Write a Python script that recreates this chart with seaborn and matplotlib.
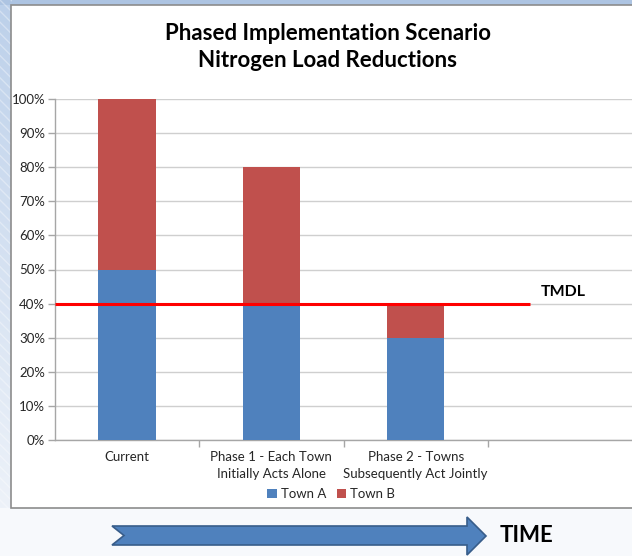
import numpy as np
import pandas as pd
import matplotlib
matplotlib.use("Agg")
import matplotlib.pyplot as plt
from matplotlib.patches import Rectangle, Polygon
from matplotlib.ticker import PercentFormatter, FixedLocator
import seaborn as sns

# ---- data ----
categories = ["Current", "Phase 1 - Each Town\nInitially Acts Alone",
              "Phase 2 - Towns\nSubsequently Act Jointly"]
town_a = [0.50, 0.40, 0.30]
town_b = [0.50, 0.40, 0.10]
tmdl = 0.40
series_names = ["Town A", "Town B"]
title = "Phased Implementation Scenario\nNitrogen Load Reductions"

sns.set_theme(style="white")
plt.rcParams["font.family"] = ["Lato", "DejaVu Sans"]

W, H = 632, 556
fig = plt.figure(figsize=(W / 100, H / 100), dpi=100)
fig.patch.set_facecolor("#f7f9fc")

# background decoration: top strip and left hatched strip
bg = fig.add_axes([0, 0, 1, 1], zorder=-10)
bg.set_xlim(0, W)
bg.set_ylim(H, 0)
bg.axis("off")
grad = np.linspace(0, 1, 256).reshape(-1, 1)
bg.imshow(grad, extent=(0, 12, 508, 0), cmap=matplotlib.colors.LinearSegmentedColormap.from_list(
    "g", ["#bcd0ea", "#edf2f9"]), aspect="auto", zorder=0)
bg.add_patch(Rectangle((0, 0), W, 5, facecolor="#adc4e2", edgecolor="none", zorder=1))
bg.add_patch(Rectangle((0, 0), 12, 508, facecolor="none", edgecolor="#ffffff", hatch="\\\\\\",
                       linewidth=0, alpha=0.35, zorder=1))
# white chart box
bg.add_patch(Rectangle((11, 5), W, 503, facecolor="white", edgecolor="#8c8c8c", linewidth=1.2, zorder=2))
bg.set_xlim(0, W)
bg.set_ylim(H, 0)

# time arrow
arrow = Polygon([(112, 526), (467, 526), (467, 517), (486, 536), (467, 555),
                 (467, 545), (112, 545), (124, 535.5)],
                closed=True, facecolor="#4f81bd", edgecolor="#385d8a", linewidth=1.2, zorder=3)
bg.add_patch(arrow)
bg.text(500, 536, "TIME", fontsize=16, fontweight="bold", color="black",
        va="center", ha="left", zorder=3)

# ---- chart ----
left, right = 55 / W, 1.0
bottom, top = 1 - 440 / H, 1 - 99 / H
ax = fig.add_axes([left, bottom, right - left, top - bottom])
ax.set_facecolor("none")

df = pd.DataFrame({"cat": categories, "A": town_a, "B": town_b})
df["total"] = df["A"] + df["B"]

c_a, c_b = "#4f81bd", "#c0504d"
sns.barplot(data=df, x="cat", y="total", color=c_b, width=0.4, saturation=1,
            ax=ax, label=series_names[1], zorder=2, linewidth=0)
sns.barplot(data=df, x="cat", y="A", color=c_a, width=0.4, saturation=1,
            ax=ax, label=series_names[0], zorder=3, linewidth=0)

ax.set_xlim(-0.5, 3.5)
ax.set_ylim(0, 1.0)
ax.set_yticks(np.arange(0, 1.01, 0.1))
ax.yaxis.set_major_formatter(PercentFormatter(1.0, decimals=0))
ax.yaxis.grid(True, color="#cfcfcf", linewidth=1.0)
ax.set_axisbelow(True)
ax.set_xlabel("")
ax.set_ylabel("")

for s in ["top", "right"]:
    ax.spines[s].set_visible(False)
for s in ["left", "bottom"]:
    ax.spines[s].set_color("#a6a6a6")
    ax.spines[s].set_linewidth(1.0)

ax.tick_params(axis="y", which="major", length=5, color="#a6a6a6", width=1.0,
               labelsize=9.5, labelcolor="#262626", pad=2, left=True, direction="out")
ax.set_xticks(range(len(categories)))
ax.set_xticklabels(categories, linespacing=1.5)
ax.tick_params(axis="x", which="major", length=0, labelsize=9.5, labelcolor="#262626", pad=8)
ax.xaxis.set_minor_locator(FixedLocator([0.5, 1.5, 2.5]))
ax.tick_params(axis="x", which="minor", length=5, color="#a6a6a6", width=1.0, bottom=True,
               direction="out")

# TMDL line
ax.hlines(tmdl, -0.5, 2.79, color="#ff0000", linewidth=2.2, zorder=5)
ax.text(2.87, tmdl + 0.035, "TMDL", fontsize=11.5, fontweight="bold", va="center",
        ha="left", color="black")

# title
fig.text(328 / W, 1 - 47 / H, title, ha="center", va="center", fontsize=16,
         fontweight="bold", color="black", linespacing=1.4)

# legend
handles, labels = ax.get_legend_handles_labels()
order = [labels.index(n) for n in series_names]
ax.legend([handles[i] for i in order], [labels[i] for i in order],
          loc="center", bbox_to_anchor=(331 / W, 1 - 494 / H), bbox_transform=fig.transFigure,
          ncol=2, frameon=False, fontsize=9.5, handlelength=0.7, handleheight=0.7,
          handletextpad=0.3, columnspacing=0.8)

fig.savefig("out.png", dpi=100, facecolor=fig.get_facecolor())
